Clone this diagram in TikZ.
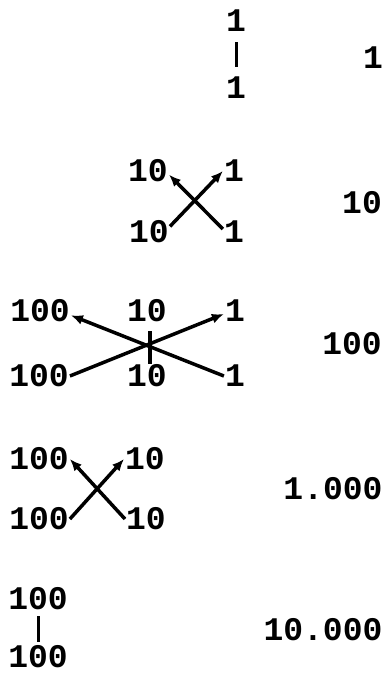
\documentclass[tikz,border=0pt]{standalone}
\usepackage{fontspec}
\setmonofont{Liberation Mono}
\usetikzlibrary{arrows.meta}
\tikzset{
  num/.style={font=\ttfamily\bfseries\fontsize{33}{35}\selectfont, inner sep=1pt},
  arr/.style={line width=3.5pt, -{Latex[length=12pt,width=10pt]}},
  bar/.style={line width=3pt}
}

\begin{document}
\begin{tikzpicture}[x=1pt,y=-1pt]
        \useasboundingbox (0,0) rectangle (387,677);
        % row 1
        \node[num] (t1) at (236,21) {1};
        \node[num] (b1) at (236,88) {1};
        \node[num] (r1) at (373,58) {1};
        \draw[bar, shorten <=9pt, shorten >=9pt] (t1.south) -- (b1.north);
        % row 2
        \node[num] (tl2) at (148,171) {10};
        \node[num] (tr2) at (234,171) {1};
        \node[num] (bl2) at (149,232) {10};
        \node[num] (br2) at (234,232) {1};
        \node[num] (r2) at (362,203) {10};
        \draw[arr] (bl2.15) -- (tr2.west);
        \draw[arr] (br2.165) -- (tl2.-10);
        % row 3
        \node[num] (tl3) at (40,311) {100};
        \node[num] (tm3) at (147,311) {10};
        \node[num] (tr3) at (235,311) {1};
        \node[num] (bl3) at (39,376) {100};
        \node[num] (bm3) at (147,376) {10};
        \node[num] (br3) at (235,376) {1};
        \node[num] (r3) at (352,344) {100};
        \draw[arr] (bl3.east) -- (tr3.195);
        \draw[arr] (br3.west) -- (tl3.-8);
        \draw[line width=3.5pt, shorten <=8pt] ([xshift=3pt]tm3.south) -- ([xshift=3pt]bm3.north);
        % row 4
        \node[num] (tl4) at (39,459) {100};
        \node[num] (tr4) at (145,459) {10};
        \node[num] (bl4) at (39,519) {100};
        \node[num] (br4) at (146,519) {10};
        \node[num] (r4) at (333,489) {1.000};
        \draw[arr] (bl4.east) -- (tr4.west);
        \draw[arr] (br4.west) -- (tl4.east);
        % row 5
        \node[num] (t5) at (38,599) {100};
        \node[num] (b5) at (38,657) {100};
        \node[num] (r5) at (323,630) {10.000};
        \draw[bar, shorten <=5pt, shorten >=3pt] (t5.south) -- (b5.north);
      \end{tikzpicture}
\end{document}
